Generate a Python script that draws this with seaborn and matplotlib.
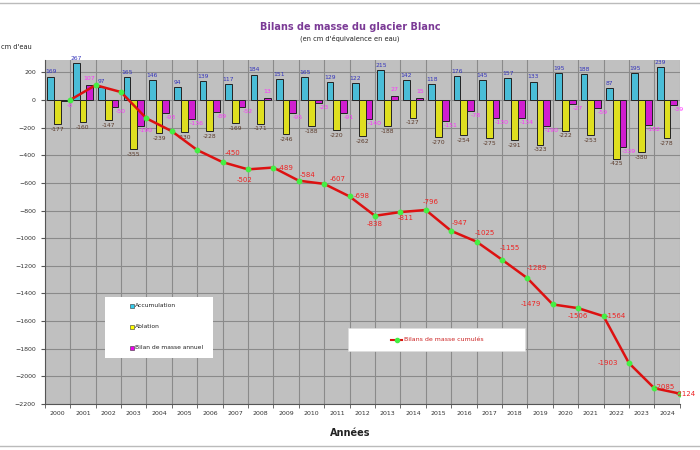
import numpy as np
import pandas as pd
import seaborn as sns
import matplotlib.pyplot as plt
from matplotlib.patches import Rectangle
from matplotlib.lines import Line2D

# Donnees (cm d'eau)
annees = [str(a) for a in range(2000, 2025)]
accumulation = [169, 267, 97, 165, 146, 94, 139, 117, 184, 151, 165, 129, 122,
                215, 142, 118, 176, 145, 157, 133, 195, 188, 87, 195, 239]
ablation = [-177, -160, -147, -355, -239, -230, -228, -169, -171, -246, -188, -220, -262,
            -188, -127, -270, -254, -275, -291, -323, -222, -253, -425, -380, -278]
bilan_annuel = [-8, 107, -50, -190, -93, -136, -89, -52, 13, -95, -23, -91, -140,
                27, 15, -151, -78, -130, -134, -190, -27, -59, -339, -182, -39]
# cumul en fin d'annee
bilan_cumule = [0, 107, 57, -133, -226, -362, -450, -502, -489, -584, -607, -698, -838,
                -811, -796, -947, -1025, -1155, -1289, -1479, -1506, -1564, -1903, -2085, -2124]

series = ['Accumulation', 'Ablation', 'Bilan de masse annuel']
couleurs = ['#33CCEE', '#FFFF00', '#EE00EE']

df = pd.DataFrame({'annee': annees, 'Accumulation': accumulation,
                   'Ablation': ablation, 'Bilan de masse annuel': bilan_annuel})
df_long = df.melt(id_vars='annee', value_vars=series, var_name='serie', value_name='valeur')

fig = plt.figure(figsize=(7, 4.5), dpi=100)
ax = fig.add_axes([0.064, 0.102, 0.907, 0.765])
ax.set_facecolor('#C0C0C0')

sns.barplot(data=df_long, x='annee', y='valeur', hue='serie', hue_order=series,
            palette=couleurs, edgecolor='#222222', linewidth=0.7, errorbar=None,
            width=0.8, legend=False, ax=ax)

# etiquettes des barres
ax.bar_label(ax.containers[0], padding=1.5, fontsize=4.3, color='#3333BB')
ax.bar_label(ax.containers[1], padding=2, fontsize=4.3, color='#5A3A2A')
for rect, v in zip(ax.containers[2], bilan_annuel):
    xb = rect.get_x() + rect.get_width()
    if v > 0:
        ax.annotate(str(v), (rect.get_x() + rect.get_width() / 2, v), xytext=(0, 4),
                    textcoords='offset pixels', ha='center', va='bottom', fontsize=4.5, color='#FF33FF')
    else:
        ax.annotate(str(v), (xb, v), xytext=(2, -2), textcoords='offset pixels',
                    ha='center', va='top', fontsize=4.5, color='#FF33FF')

# bilan cumule, points en fin d'annee
x_cumul = np.arange(len(annees)) + 0.5
ax.plot(x_cumul, bilan_cumule, color='#DD1111', lw=1.8, zorder=4)
ax.plot(x_cumul, bilan_cumule, ls='none', marker='o', ms=3.2, mfc='#44EE44', mec='#44EE44', zorder=5)

decalages = [(10, 9), (-3, -11), (12, 0), (9, 6), (14, 5), (12, 0), (0, -8), (5, -6),
             (5, 8), (8, 8), (8, 9), (8, 12), (10, 10), (-22, 0), (0, -8), (12, 0),
             (-21, 0), (10, 1), (6, 0)]
for (dx, dy), xc, v in zip(decalages, x_cumul[6:], bilan_cumule[6:]):
    ax.annotate(str(v), (xc, v), xytext=(dx, dy), textcoords='offset pixels',
                ha='center', va='center', fontsize=5, color='#EE2222', zorder=6,
                annotation_clip=False)

ax.set_xlim(-0.5, 24.5)
ax.set_ylim(-2200, 290)
ax.set_yticks(np.arange(-2200, 201, 200))
ax.set_xticks(np.arange(-0.5, 25, 1), minor=True)
ax.grid(which='minor', axis='x', color='#8A8A8A', lw=0.8)
ax.grid(which='major', axis='y', color='#8A8A8A', lw=0.8)
ax.set_axisbelow(True)
ax.tick_params(axis='x', which='major', length=0, labelsize=4.5, labelcolor='#333333', pad=5)
ax.tick_params(axis='x', which='minor', length=3, color='#555555')
ax.tick_params(axis='y', length=3, labelsize=4.5, labelcolor='#333333', color='#555555')
for s in ['top', 'right']:
    ax.spines[s].set_visible(False)
for s in ['left', 'bottom']:
    ax.spines[s].set_color('#555555')
ax.set_xlabel('')
ax.set_ylabel('')

# legende des barres
ax.add_patch(Rectangle((0.0945, 0.134), 0.170, 0.177, transform=ax.transAxes,
                       fc='white', ec='none', zorder=7))
for yy, lab, c in zip([0.285, 0.224, 0.163], series, couleurs):
    ax.plot([0.137], [yy], marker='s', ms=2.5, mfc=c, mec='#333333', mew=0.4,
            transform=ax.transAxes, zorder=8, clip_on=False)
    ax.text(0.142, yy, lab, transform=ax.transAxes, fontsize=4.3, va='center',
            color='#222222', zorder=8)

# legende du cumul
ax.add_patch(Rectangle((0.477, 0.154), 0.279, 0.067, transform=ax.transAxes,
                       fc='white', ec='#DDDDDD', lw=0.5, zorder=7))
ax.plot([0.546, 0.562], [0.187, 0.187], color='#DD1111', lw=1.5, transform=ax.transAxes, zorder=8)
ax.plot([0.554], [0.187], marker='o', ms=3, mfc='#44EE44', mec='#44EE44',
        transform=ax.transAxes, zorder=9)
ax.text(0.565, 0.187, 'Bilans de masse cumulés', transform=ax.transAxes, fontsize=4.5,
        va='center', color='#CC2222', zorder=8)

# textes
fig.text(0.5, 0.94, 'Bilans de masse du glacier Blanc', ha='center', va='center',
         fontsize=7, fontweight='bold', color='#7B3A96')
fig.text(0.5, 0.916, "(en cm d'équivalence en eau)", ha='center', va='center',
         fontsize=4.8, color='#222222')
fig.text(0.002, 0.896, "cm d'eau", ha='left', va='center', fontsize=4.8, color='#222222')
fig.text(0.5, 0.037, 'Années', ha='center', va='center', fontsize=7, fontweight='bold',
         color='#222222')

fig.add_artist(Line2D([0, 1], [0.993, 0.993], color='#BBBBBB', lw=1))
fig.add_artist(Line2D([0, 1], [0.01, 0.01], color='#BBBBBB', lw=1))

fig.savefig('out.png', dpi=100, facecolor='white')
